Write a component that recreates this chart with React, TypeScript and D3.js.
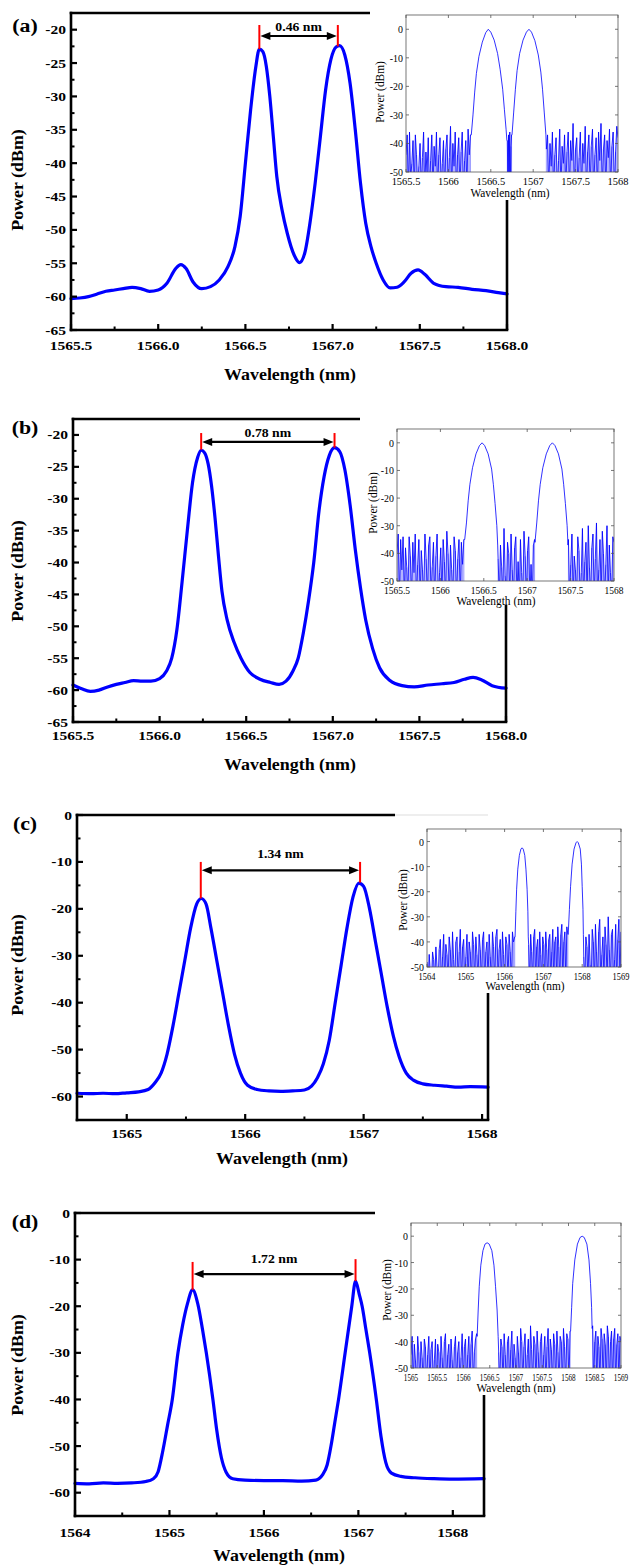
import React from "react";
import * as d3 from "d3";

type P = [number, number];

// ---------------- Panel (a) data ----------------
const A_CURVE: P[] = [
  [1565.5, -60.3], [1565.55, -60.2], [1565.6, -60.0], [1565.65, -59.6], [1565.7, -59.2], [1565.75, -59.0],
  [1565.8, -58.8], [1565.85, -58.6], [1565.9, -58.8], [1565.95, -59.2], [1566.0, -59.0], [1566.05, -58.0],
  [1566.1, -55.8], [1566.13, -55.2], [1566.16, -55.8], [1566.2, -57.8], [1566.25, -58.8], [1566.3, -58.5],
  [1566.35, -57.5], [1566.4, -55.5], [1566.44, -52.5], [1566.47, -48], [1566.5, -40], [1566.53, -32],
  [1566.56, -25.5], [1566.58, -22.9], [1566.6, -23.3], [1566.62, -25.5], [1566.64, -30], [1566.66, -36],
  [1566.68, -42], [1566.71, -47], [1566.74, -50.5], [1566.78, -53.8], [1566.81, -54.9], [1566.84, -53.5],
  [1566.87, -49], [1566.9, -43], [1566.93, -36], [1566.96, -29], [1566.99, -24.5], [1567.02, -22.6],
  [1567.04, -22.4], [1567.07, -23.8], [1567.1, -28], [1567.13, -35], [1567.16, -43], [1567.19, -49],
  [1567.22, -52.5], [1567.25, -55], [1567.29, -57.5], [1567.33, -58.7], [1567.37, -58.6], [1567.41, -57.8],
  [1567.45, -56.5], [1567.49, -56.0], [1567.53, -56.7], [1567.58, -58.0], [1567.65, -58.5], [1567.72, -58.6],
  [1567.8, -58.9], [1567.88, -59.1], [1567.95, -59.4], [1568.0, -59.6],
];
const A_XTICKS = [1565.5, 1566.0, 1566.5, 1567.0, 1567.5, 1568.0];
const A_YTICKS = [-65, -60, -55, -50, -45, -40, -35, -30, -25, -20];
const A_MARK_WL = [1566.58, 1567.03];
const A_MARK_TOP = [-19.3, -19.3];
const A_MARK_PEAK = [-22.9, -22.5];
const A_ARROW_Y = -20.95;
const A_SPACING = "0.46 nm";

const A_IN_XTICKS = [1565.5, 1566, 1566.5, 1567, 1567.5, 1568];
const A_IN_PEAK_L: P[] = [
  [1566.27, -37], [1566.29, -30], [1566.31, -22], [1566.33, -15.5], [1566.36, -9.5], [1566.4, -4.5],
  [1566.44, -1.2], [1566.47, 0], [1566.5, -1], [1566.54, -3.8], [1566.58, -8.5], [1566.61, -14],
  [1566.64, -21], [1566.66, -28], [1566.68, -35], [1566.69, -39],
];
const A_IN_PEAK_R: P[] = [
  [1566.75, -37], [1566.77, -29], [1566.79, -21], [1566.81, -14.5], [1566.84, -8.5], [1566.88, -3.8],
  [1566.92, -1], [1566.95, 0], [1566.98, -1], [1567.02, -4], [1567.06, -9], [1567.09, -15],
  [1567.11, -21], [1567.13, -29], [1567.15, -37],
];
const A_NOISE_SPANS: P[] = [[1565.5, 1566.26], [1566.695, 1566.745], [1567.155, 1568]];
const A_NOISE_L = [-44, -37, -56, -36, -52, -47, -39, -56, -37, -44, -56, -48, -40, -56, -45, -36, -56, -43, -50, -38, -56, -46, -37, -56, -41, -48, -36, -56, -44, -38, -56, -47, -39, -56, -42, -37, -56, -45, -34, -56, -40, -48, -36, -56, -44, -38, -56, -43, -36, -56, -46, -39, -56, -35, -44, -37];
const A_NOISE_M = [-39, -56, -37, -52, -36, -56, -41, -37];
const A_NOISE_R = [-42, -37, -56, -40, -48, -36, -56, -44, -38, -56, -46, -35, -56, -41, -47, -37, -56, -43, -36, -56, -39, -46, -33, -56, -42, -38, -56, -45, -36, -56, -40, -47, -34, -56, -43, -37, -56, -41, -35, -56, -44, -38, -56, -36, -46, -33, -56, -42, -37, -56, -39, -45, -35, -56, -41, -36, -56, -43, -34, -38];

// ---------------- Panel (b) data ----------------
const B_CURVE: P[] = [
  [1565.5, -59.2], [1565.55, -59.8], [1565.6, -60.2], [1565.65, -60.0], [1565.7, -59.5], [1565.75, -59.1],
  [1565.8, -58.8], [1565.85, -58.5], [1565.9, -58.6], [1565.95, -58.6], [1566.0, -58.2], [1566.04, -57],
  [1566.07, -55], [1566.1, -50.5], [1566.13, -43], [1566.16, -35], [1566.19, -27.5], [1566.22, -23.5],
  [1566.24, -22.4], [1566.26, -22.8], [1566.28, -24.5], [1566.3, -28], [1566.32, -33], [1566.34, -39],
  [1566.36, -44.5], [1566.39, -49], [1566.43, -52.5], [1566.47, -55], [1566.52, -57.2], [1566.58, -58.3],
  [1566.64, -58.8], [1566.69, -59.1], [1566.73, -58.6], [1566.77, -57], [1566.8, -55], [1566.83, -51],
  [1566.86, -46], [1566.89, -40], [1566.92, -32], [1566.95, -26.5], [1566.98, -23.2], [1567.01, -22.0],
  [1567.04, -22.6], [1567.07, -25.5], [1567.1, -31], [1567.13, -38], [1567.16, -44], [1567.19, -49],
  [1567.23, -53.5], [1567.27, -56.5], [1567.33, -58.5], [1567.4, -59.3], [1567.47, -59.5], [1567.55, -59.2],
  [1567.63, -59.0], [1567.7, -58.8], [1567.76, -58.3], [1567.81, -58.0], [1567.86, -58.4], [1567.92, -59.3],
  [1568.0, -59.7],
];
const B_XTICKS = [1565.5, 1566.0, 1566.5, 1567.0, 1567.5, 1568.0];
const B_YTICKS = [-65, -60, -55, -50, -45, -40, -35, -30, -25, -20];
const B_MARK_WL = [1566.24, 1567.01];
const B_MARK_TOP = [-19.7, -19.7];
const B_MARK_PEAK = [-22.3, -22.0];
const B_ARROW_Y = -21.1;
const B_SPACING = "0.78 nm";

const B_IN_XTICKS = [1565.5, 1566, 1566.5, 1567, 1567.5, 1568];
const B_IN_PEAK_L: P[] = [
  [1566.28, -35], [1566.3, -29], [1566.32, -21], [1566.34, -15], [1566.37, -9], [1566.41, -4],
  [1566.45, -1], [1566.48, 0], [1566.51, -1], [1566.55, -4], [1566.59, -9.5], [1566.61, -15],
  [1566.63, -22], [1566.65, -30], [1566.66, -37],
];
const B_IN_PEAK_R: P[] = [
  [1567.09, -36], [1567.11, -29], [1567.13, -21], [1567.15, -15], [1567.18, -9], [1567.22, -4],
  [1567.26, -1], [1567.29, 0], [1567.32, -1], [1567.36, -4], [1567.4, -9.5], [1567.42, -15],
  [1567.44, -22], [1567.46, -30], [1567.47, -37],
];
const B_NOISE_SPANS: P[] = [[1565.5, 1566.27], [1566.665, 1567.085], [1567.475, 1568]];
const B_NOISE_L = [-40, -33, -56, -35, -46, -34, -56, -38, -45, -56, -34, -41, -56, -36, -47, -33, -56, -44, -35, -56, -39, -46, -56, -33, -42, -56, -37, -34, -56, -45, -36, -56, -41, -33, -56, -47, -38, -56, -35, -43, -56, -32, -40, -56, -37, -46, -56, -34, -39, -56, -42, -35, -56, -36, -44, -35];
const B_NOISE_M = [-42, -56, -37, -45, -56, -31, -48, -56, -36, -40, -56, -33, -46, -56, -38, -34, -56, -43, -56, -35, -47, -56, -32, -41, -56, -39, -34, -56, -44, -56, -37, -35];
const B_NOISE_R = [-35, -56, -44, -33, -56, -41, -46, -56, -34, -39, -56, -47, -31, -56, -43, -36, -56, -30, -45, -56, -38, -33, -56, -42, -29, -56, -46, -35, -56, -32, -40, -56, -44, -30, -56, -37, -47, -56, -34, -36];

// ---------------- Panel (c) data ----------------
const C_CURVE: P[] = [
  [1564.58, -59.3], [1564.7, -59.4], [1564.8, -59.3], [1564.9, -59.4], [1565.0, -59.2], [1565.1, -59.0],
  [1565.18, -58.5], [1565.24, -57], [1565.29, -55], [1565.34, -51], [1565.39, -45], [1565.44, -38],
  [1565.49, -31], [1565.54, -24], [1565.59, -19], [1565.63, -17.8], [1565.67, -19], [1565.71, -24],
  [1565.76, -31], [1565.81, -38], [1565.86, -45], [1565.91, -51], [1565.96, -55], [1566.02, -57.6],
  [1566.1, -58.5], [1566.2, -58.8], [1566.3, -58.9], [1566.4, -58.8], [1566.5, -58.6], [1566.56, -57.8],
  [1566.61, -56], [1566.66, -53], [1566.71, -48], [1566.76, -40], [1566.81, -32], [1566.86, -24],
  [1566.91, -17.5], [1566.96, -14.5], [1567.0, -15.2], [1567.05, -20], [1567.1, -27], [1567.15, -34],
  [1567.2, -41], [1567.25, -47], [1567.3, -51.5], [1567.36, -55], [1567.42, -56.5], [1567.5, -57.3],
  [1567.6, -57.6], [1567.7, -57.8], [1567.8, -58.0], [1567.9, -57.9], [1568.05, -58.0],
];
const C_XTICKS = [1565, 1566, 1567, 1568];
const C_YTICKS = [-60, -50, -40, -30, -20, -10, 0];
const C_MARK_WL = [1565.625, 1566.97];
const C_MARK_TOP = [-10, -10];
const C_MARK_PEAK = [-17.8, -14.4];
const C_ARROW_Y = -11.8;
const C_SPACING = "1.34 nm";

const C_IN_XTICKS = [1564, 1565, 1566, 1567, 1568, 1569];
const C_IN_PEAK_L: P[] = [
  [1566.27, -38], [1566.29, -28], [1566.31, -19], [1566.34, -11], [1566.38, -5.5], [1566.42, -3],
  [1566.45, -2.5], [1566.48, -3], [1566.52, -5.5], [1566.55, -11], [1566.58, -19], [1566.6, -28], [1566.61, -38],
];
const C_IN_PEAK_R: P[] = [
  [1567.64, -37], [1567.67, -27], [1567.7, -18], [1567.74, -9], [1567.79, -3], [1567.84, -0.5],
  [1567.87, 0], [1567.9, -0.5], [1567.95, -3], [1567.98, -9], [1568.0, -18], [1568.02, -27], [1568.03, -37],
];
const C_NOISE_SPANS: P[] = [[1564, 1566.26], [1566.62, 1567.63], [1568.04, 1569]];
const C_NOISE_L = [-48, -56, -45, -52, -56, -44, -47, -56, -42, -50, -56, -43, -39, -56, -46, -37, -56, -41, -45, -56, -38, -43, -56, -36, -47, -56, -40, -38, -56, -44, -35, -56, -42, -39, -56, -46, -37, -56, -40, -44, -56, -36, -41, -56, -38, -45, -56, -37, -43, -56, -39, -36, -56, -44, -40, -56, -37, -46, -56, -36, -42, -56, -38, -35, -56, -43, -39, -56, -36, -45, -56, -38, -41, -56, -37, -44, -56, -36, -40, -38];
const C_NOISE_M = [-41, -56, -37, -44, -56, -38, -35, -56, -42, -39, -56, -36, -45, -56, -38, -41, -56, -36, -43, -56, -39, -37, -56, -44, -35, -56, -40, -38, -56, -34, -42, -56, -37, -33, -56, -40, -36, -56, -34, -37];
const C_NOISE_R = [-46, -56, -38, -42, -56, -37, -49, -56, -35, -40, -56, -33, -44, -56, -36, -31, -56, -45, -38, -56, -34, -41, -56, -30, -43, -56, -37, -35, -56, -47, -33, -56, -39, -31, -56, -36];

// ---------------- Panel (d) data ----------------
const D_CURVE: P[] = [
  [1564.0, -58.0], [1564.15, -58.1], [1564.3, -57.9], [1564.45, -58.0], [1564.6, -57.9], [1564.75, -57.6],
  [1564.83, -57.0], [1564.88, -55.5], [1564.93, -51], [1564.98, -45.5], [1565.03, -40], [1565.09, -30],
  [1565.14, -24], [1565.19, -19.5], [1565.245, -16.5], [1565.3, -19.5], [1565.35, -25], [1565.39, -30],
  [1565.46, -40], [1565.5, -46.5], [1565.55, -52.5], [1565.6, -55.6], [1565.67, -57], [1565.8, -57.3],
  [1566.0, -57.4], [1566.2, -57.4], [1566.4, -57.5], [1566.55, -57.3], [1566.62, -56.2], [1566.67, -54],
  [1566.71, -50], [1566.75, -45], [1566.79, -40], [1566.86, -30], [1566.93, -20], [1566.97, -14.6],
  [1567.01, -17.5], [1567.04, -20], [1567.08, -25], [1567.12, -30], [1567.19, -40], [1567.24, -48],
  [1567.29, -53.5], [1567.35, -55.8], [1567.45, -56.5], [1567.6, -56.8], [1567.8, -57.0], [1568.0, -57.1],
  [1568.33, -57.0],
];
const D_XTICKS = [1564, 1565, 1566, 1567, 1568];
const D_YTICKS = [-60, -50, -40, -30, -20, -10, 0];
const D_MARK_WL = [1565.245, 1566.97];
const D_MARK_TOP = [-10.5, -9.9];
const D_MARK_PEAK = [-16.5, -14.6];
const D_ARROW_Y = -13.1;
const D_SPACING = "1.72 nm";

const D_IN_XTICKS = [1565, 1565.5, 1566, 1566.5, 1567, 1567.5, 1568, 1568.5, 1569];
const D_IN_PEAK_L: P[] = [
  [1566.26, -38], [1566.28, -28], [1566.3, -19], [1566.33, -11], [1566.37, -5.5], [1566.41, -3],
  [1566.45, -2.5], [1566.49, -3], [1566.54, -5.5], [1566.58, -11], [1566.61, -19], [1566.64, -28], [1566.66, -38],
];
const D_IN_PEAK_R: P[] = [
  [1568.04, -36], [1568.06, -27], [1568.08, -18], [1568.12, -9], [1568.17, -3], [1568.22, -0.5],
  [1568.26, 0], [1568.3, -0.5], [1568.35, -3], [1568.39, -9], [1568.42, -18], [1568.44, -27], [1568.45, -35],
];
const D_NOISE_SPANS: P[] = [[1565, 1566.25], [1566.67, 1568.03], [1568.46, 1569]];
const D_NOISE_L = [-45, -38, -56, -41, -47, -56, -38, -44, -56, -40, -46, -56, -39, -42, -56, -45, -38, -56, -43, -40, -56, -47, -39, -56, -41, -44, -56, -38, -46, -56, -40, -37, -56, -45, -41, -56, -39, -47, -56, -42, -38, -56, -44, -40, -56, -46, -37, -56, -42, -39, -56, -45, -38, -56, -41, -36, -56, -44, -39, -37];
const D_NOISE_M = [-44, -56, -39, -42, -56, -37, -45, -56, -40, -38, -56, -43, -36, -56, -41, -46, -56, -38, -44, -56, -35, -40, -56, -42, -37, -56, -45, -39, -56, -34, -43, -56, -38, -41, -56, -36, -44, -56, -40, -37, -56, -45, -38, -56, -42, -35, -56, -39, -43, -56, -37, -41, -56, -36, -44, -56, -38, -40, -56, -35, -42, -56, -37, -39, -56, -36];
const D_NOISE_R = [-34, -56, -40, -36, -56, -38, -42, -56, -35, -39, -56, -37, -41, -56, -34, -38, -56, -40, -36, -56, -39, -35, -56, -41, -37, -56, -38, -40];

const INSET_YTICKS = [-50, -40, -30, -20, -10, 0];

// ---------------- layout ----------------
const SERIF = "Liberation Serif, Times New Roman, Times, serif";
const BLUE = "#0000ff";

function buildInset(noise: number[][], spans: P[], peaks: P[][]) {
  const series: P[] = [];
  const stems: P[] = [];
  noise.forEach((vals, i) => {
    const [a, b] = spans[i];
    vals.forEach((v, j) => {
      const pt: P = [a + ((b - a) * j) / (vals.length - 1), v];
      series.push(pt);
      stems.push(pt);
    });
    if (peaks[i]) series.push(...peaks[i]);
  });
  return { series, stems };
}

function T(props: any) {
  const { x, y, size, sx = 1, anchor = "middle", rotate = 0, bold = true, children } = props;
  return (
    <text
      transform={`translate(${x},${y}) rotate(${rotate}) scale(${sx},1)`}
      fontFamily={SERIF}
      fontWeight={bold ? 700 : 400}
      fontSize={size}
      textAnchor={anchor}
      fill="#000"
    >
      {children}
    </text>
  );
}

const panels = [
  {
    tag: "(a)", curve: A_CURVE, xTicks: A_XTICKS, yTicks: A_YTICKS, xDomain: [1565.5, 1568], yDomain: [-65, -17.5],
    minorX: 0.25, minorY: 2.5, fmt: (v: number) => v.toFixed(1),
    markWl: A_MARK_WL, markTop: A_MARK_TOP, markPeak: A_MARK_PEAK, arrowY: A_ARROW_Y, spacing: A_SPACING,
    L: { left: 71, right: 507, top: 13, bottom: 330, topEnd: 370, grayEnd: 0, rightStart: 200, tagY: 32, ylabY: 180, xlabX: 290, xTickY: 350, xlabY: 380, labelDy: -5 },
    inset: {
      data: buildInset([A_NOISE_L, A_NOISE_M, A_NOISE_R], A_NOISE_SPANS, [A_IN_PEAK_L, A_IN_PEAK_R]),
      xTicks: A_IN_XTICKS, xDomain: [1565.5, 1568], tickSize: 11, tickSx: 0.95,
      L: { left: 406, right: 618, top: 15, bottom: 172, ylabX: 384, ylabY: 92, xTickY: 185, xlabX: 510, xlabY: 197 },
    },
  },
  {
    tag: "(b)", curve: B_CURVE, xTicks: B_XTICKS, yTicks: B_YTICKS, xDomain: [1565.5, 1568], yDomain: [-65, -17.5],
    minorX: 0.25, minorY: 2.5, fmt: (v: number) => v.toFixed(1),
    markWl: B_MARK_WL, markTop: B_MARK_TOP, markPeak: B_MARK_PEAK, arrowY: B_ARROW_Y, spacing: B_SPACING,
    L: { left: 73, right: 506, top: 419, bottom: 722, topEnd: 360, grayEnd: 0, rightStart: 605, tagY: 434, ylabY: 571, xlabX: 290, xTickY: 740, xlabY: 770, labelDy: -5 },
    inset: {
      data: buildInset([B_NOISE_L, B_NOISE_M, B_NOISE_R], B_NOISE_SPANS, [B_IN_PEAK_L, B_IN_PEAK_R]),
      xTicks: B_IN_XTICKS, xDomain: [1565.5, 1568], tickSize: 10.5, tickSx: 0.9,
      L: { left: 397, right: 614, top: 429, bottom: 581, ylabX: 377, ylabY: 503, xTickY: 594, xlabX: 496, xlabY: 605 },
    },
  },
  {
    tag: "(c)", curve: C_CURVE, xTicks: C_XTICKS, yTicks: C_YTICKS, xDomain: [1564.58, 1568.05], yDomain: [-65, 0],
    minorX: 0.5, minorY: 5, fmt: (v: number) => String(v),
    markWl: C_MARK_WL, markTop: C_MARK_TOP, markPeak: C_MARK_PEAK, arrowY: C_ARROW_Y, spacing: C_SPACING,
    L: { left: 77, right: 488, top: 815, bottom: 1120, topEnd: 395, grayEnd: 488, rightStart: 993, tagY: 830, ylabY: 965, xlabX: 282, xTickY: 1138, xlabY: 1164, labelDy: -12 },
    inset: {
      data: buildInset([C_NOISE_L, C_NOISE_M, C_NOISE_R], C_NOISE_SPANS, [C_IN_PEAK_L, C_IN_PEAK_R]),
      xTicks: C_IN_XTICKS, xDomain: [1564, 1569], tickSize: 10.5, tickSx: 0.8,
      L: { left: 427, right: 621, top: 829, bottom: 967, ylabX: 407, ylabY: 900, xTickY: 980, xlabX: 525, xlabY: 990 },
    },
  },
  {
    tag: "(d)", curve: D_CURVE, xTicks: D_XTICKS, yTicks: D_YTICKS, xDomain: [1564, 1568.33], yDomain: [-65, 0],
    minorX: 0.5, minorY: 5, fmt: (v: number) => String(v),
    markWl: D_MARK_WL, markTop: D_MARK_TOP, markPeak: D_MARK_PEAK, arrowY: D_ARROW_Y, spacing: D_SPACING,
    L: { left: 75, right: 484, top: 1213, bottom: 1516, topEnd: 375, grayEnd: 0, rightStart: 1395, tagY: 1228, ylabY: 1365, xlabX: 279, xTickY: 1537, xlabY: 1561, labelDy: -11 },
    inset: {
      data: buildInset([D_NOISE_L, D_NOISE_M, D_NOISE_R], D_NOISE_SPANS, [D_IN_PEAK_L, D_IN_PEAK_R]),
      xTicks: D_IN_XTICKS, xDomain: [1565, 1569], tickSize: 10, tickSx: 0.72,
      L: { left: 411, right: 621, top: 1223, bottom: 1368, ylabX: 391, ylabY: 1290, xTickY: 1381, xlabX: 516, xlabY: 1392 },
    },
  },
];

function minorTicks(domain: number[], step: number, majors: number[]) {
  const out: number[] = [];
  const start = Math.ceil(domain[0] / step - 1e-9) * step;
  for (let v = start; v <= domain[1] + 1e-9; v += step) {
    if (!majors.some((m) => Math.abs(m - v) < 1e-6)) out.push(+v.toFixed(4));
  }
  return out;
}

function Inset({ cfg, idx }: any) {
  const L = cfg.L;
  const x = d3.scaleLinear().domain(cfg.xDomain).range([L.left, L.right]);
  const y = d3.scaleLinear().domain([-50, 5]).range([L.bottom, L.top]);
  const line = d3.line<P>().x((p) => x(p[0])).y((p) => y(p[1]));
  const clipId = `inclip${idx}`;
  const edge = "#555";
  return (
    <g>
      <defs>
        <clipPath id={clipId}>
          <rect x={L.left} y={L.top} width={L.right - L.left} height={L.bottom - L.top} />
        </clipPath>
      </defs>
      <rect x={L.left} y={L.top} width={L.right - L.left} height={L.bottom - L.top} fill="#fff" />
      <g clipPath={`url(#${clipId})`}>
        {cfg.data.stems.map((s: P, i: number) => (
          <line key={i} x1={x(s[0])} x2={x(s[0])} y1={y(-50)} y2={y(Math.max(s[1], -50))} stroke="#3030ff" strokeWidth={0.7} strokeOpacity={0.7} />
        ))}
        <path d={line(cfg.data.series) || ""} fill="none" stroke={BLUE} strokeWidth={0.9} strokeOpacity={0.9} />
      </g>
      <rect x={L.left} y={L.top} width={L.right - L.left} height={L.bottom - L.top} fill="none" stroke={edge} strokeWidth={0.8} />
      {cfg.xTicks.map((t: number) => (
        <g key={"x" + t}>
          <line x1={x(t)} x2={x(t)} y1={L.bottom} y2={L.bottom - 3} stroke={edge} strokeWidth={0.8} />
          <line x1={x(t)} x2={x(t)} y1={L.top} y2={L.top + 3} stroke={edge} strokeWidth={0.8} />
          <T x={x(t)} y={L.xTickY} size={cfg.tickSize} sx={cfg.tickSx} bold={false}>{String(t)}</T>
        </g>
      ))}
      {INSET_YTICKS.map((t) => (
        <g key={"y" + t}>
          <line x1={L.left} x2={L.left + 3} y1={y(t)} y2={y(t)} stroke={edge} strokeWidth={0.8} />
          <line x1={L.right} x2={L.right - 3} y1={y(t)} y2={y(t)} stroke={edge} strokeWidth={0.8} />
          <T x={L.left - 3} y={y(t) + 4} size={11} sx={0.9} bold={false} anchor="end">{String(t)}</T>
        </g>
      ))}
      <T x={L.ylabX} y={L.ylabY} size={12} sx={0.95} bold={false} rotate={-90}>Power (dBm)</T>
      <T x={L.xlabX} y={L.xlabY} size={12} sx={0.95} bold={false}>Wavelength (nm)</T>
    </g>
  );
}

function Panel({ p, idx }: any) {
  const L = p.L;
  const x = d3.scaleLinear().domain(p.xDomain).range([L.left, L.right]);
  const y = d3.scaleLinear().domain(p.yDomain).range([L.bottom, L.top]);
  const line = d3.line<P>().x((d) => x(d[0])).y((d) => y(d[1])).curve(d3.curveMonotoneX);
  const xMinor = minorTicks(p.xDomain, p.minorX, p.xTicks);
  const yMinor = minorTicks([p.yDomain[0], p.yDomain[1] - 0.1], p.minorY, p.yTicks);
  const ax = { stroke: "#000", strokeWidth: 2.6 };
  const x1 = x(p.markWl[0]);
  const x2 = x(p.markWl[1]);
  const ay = y(p.arrowY);
  const ah = 10;
  const aw = 4;
  return (
    <g>
      <path d={line(p.curve) || ""} fill="none" stroke={BLUE} strokeWidth={3.2} strokeLinejoin="round" strokeLinecap="round" />
      <line x1={L.left} x2={L.left} y1={L.top - 1.3} y2={L.bottom + 1.3} {...ax} />
      <line x1={L.left - 1.3} x2={L.right + 1.3} y1={L.bottom} y2={L.bottom} {...ax} />
      <line x1={L.left - 1.3} x2={L.topEnd} y1={L.top} y2={L.top} {...ax} />
      {L.grayEnd > 0 && <line x1={L.topEnd} x2={L.grayEnd} y1={L.top} y2={L.top} stroke="#ddd" strokeWidth={1} />}
      <line x1={L.right} x2={L.right} y1={L.rightStart} y2={L.bottom} {...ax} />
      {p.xTicks.map((t: number) => (
        <g key={"xt" + t}>
          <line x1={x(t)} x2={x(t)} y1={L.bottom} y2={L.bottom - 6} stroke="#000" strokeWidth={2.2} />
          <T x={x(t)} y={L.xTickY} size={13.5} sx={1.15}>{p.fmt(t)}</T>
        </g>
      ))}
      {xMinor.map((t: number) => (
        <line key={"xm" + t} x1={x(t)} x2={x(t)} y1={L.bottom} y2={L.bottom - 3.5} stroke="#000" strokeWidth={2} />
      ))}
      {p.yTicks.map((t: number) => (
        <g key={"yt" + t}>
          <line x1={L.left} x2={L.left + 6} y1={y(t)} y2={y(t)} stroke="#000" strokeWidth={2.2} />
          <T x={L.left - 5} y={y(t) + 4.5} size={13.5} sx={1.15} anchor="end">{String(t)}</T>
        </g>
      ))}
      {yMinor.map((t: number) => (
        <line key={"ym" + t} x1={L.left} x2={L.left + 3.5} y1={y(t)} y2={y(t)} stroke="#000" strokeWidth={2} />
      ))}
      {p.markWl.map((w: number, i: number) => (
        <line key={"mk" + i} x1={x(w)} x2={x(w)} y1={y(p.markTop[i])} y2={y(p.markPeak[i])} stroke="#ff0000" strokeWidth={2} />
      ))}
      <line x1={x1 + ah - 1} x2={x2 - ah + 1} y1={ay} y2={ay} stroke="#000" strokeWidth={2.2} />
      <polygon points={`${x1 + 1},${ay} ${x1 + ah + 1},${ay - aw} ${x1 + ah + 1},${ay + aw}`} fill="#000" />
      <polygon points={`${x2 - 1},${ay} ${x2 - ah - 1},${ay - aw} ${x2 - ah - 1},${ay + aw}`} fill="#000" />
      <T x={(x1 + x2) / 2} y={ay + L.labelDy} size={12.5} sx={1.1}>{p.spacing}</T>
      <T x={25} y={L.tagY} size={19} sx={1.15}>{p.tag}</T>
      <T x={23} y={L.ylabY} size={16} sx={1.12} rotate={-90}>Power (dBm)</T>
      <T x={L.xlabX} y={L.xlabY} size={16} sx={1.12}>Wavelength (nm)</T>
      <Inset cfg={p.inset} idx={idx} />
    </g>
  );
}

export default function App() {
  return (
    <svg width={630} height={1566} style={{ position: "absolute", left: 0, top: 0, background: "#fff" }}>
      <rect x={0} y={0} width={630} height={1566} fill="#fff" />
      {panels.map((p, i) => (
        <Panel key={i} p={p} idx={i} />
      ))}
    </svg>
  );
}
